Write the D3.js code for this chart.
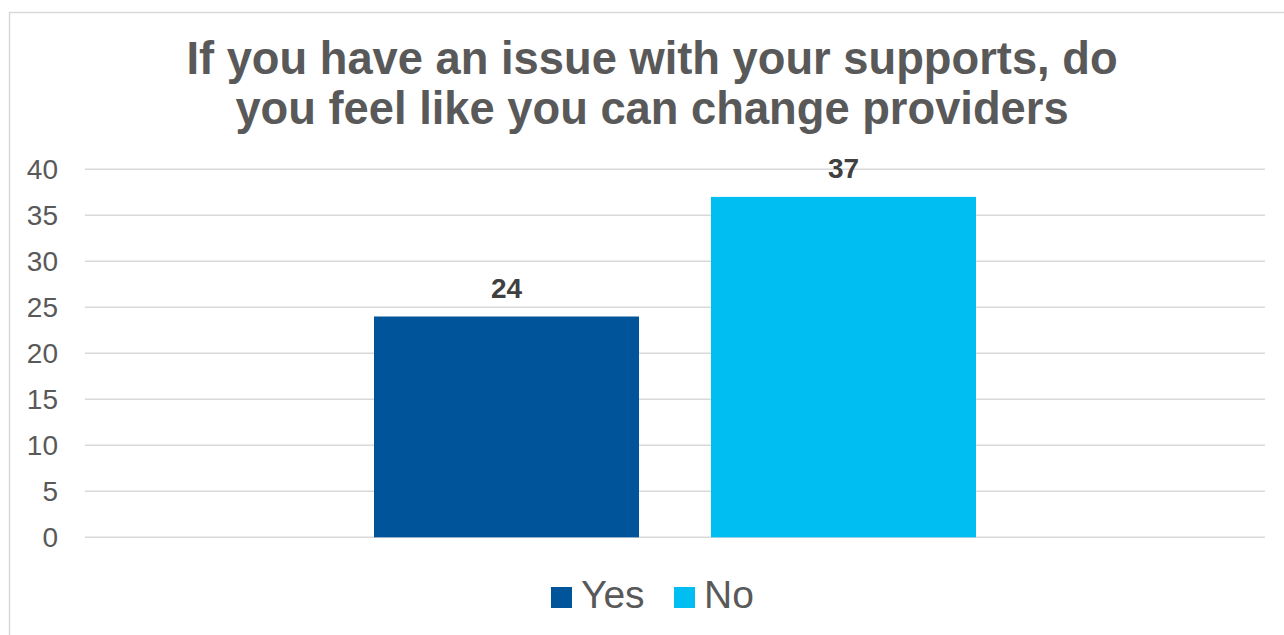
<!DOCTYPE html>
<html><head><meta charset="utf-8">
<script src="https://cdn.jsdelivr.net/npm/d3@7"></script>
<style>body{margin:0;background:#fff;}svg{display:block;font-family:Arial,"Liberation Sans",sans-serif;}</style>
</head><body>
<script>
const seriesNames = ["Yes", "No"];
const seriesValues = [24, 37];
const seriesColors = ["#00559A", "#00BEF2"];
const yTicks = [0, 5, 10, 15, 20, 25, 30, 35, 40];
const titleLines = ["If you have an issue with your supports, do", "you feel like you can change providers"];

const W = 1284, H = 635;
const svg = d3.select("body").append("svg").attr("width", W).attr("height", H);

// chart border (left and top visible)
svg.append("path").attr("d", `M9.5,${H} V12.5 H${W}`).attr("fill", "none").attr("stroke", "#d9d9d9").attr("stroke-width", 1.5);

const plot = {left: 85, right: 1265, top: 169.3, bottom: 537.3};
const y = d3.scaleLinear().domain([0, 40]).range([plot.bottom, plot.top]);
const x = d3.scaleBand().domain(seriesNames).range([plot.left, plot.right]).paddingInner(0.2136).paddingOuter(0.8576);

// gridlines
svg.append("g").selectAll("line").data(yTicks).join("line")
  .attr("x1", plot.left).attr("x2", plot.right)
  .attr("y1", d => y(d)).attr("y2", d => y(d))
  .attr("stroke", "#d9d9d9").attr("stroke-width", 1.6);

// y axis labels
const yAxis = d3.axisLeft(y).tickValues(yTicks).tickSize(0).tickPadding(27);
const ga = svg.append("g").attr("transform", `translate(${plot.left},0)`).call(yAxis);
ga.select(".domain").remove();
ga.selectAll("text").attr("font-size", 28).attr("fill", "#595959").attr("font-family", "Arial, 'Liberation Sans', sans-serif");

// bars
const data = seriesNames.map((n, i) => ({name: n, value: seriesValues[i], color: seriesColors[i]}));
svg.append("g").selectAll("rect").data(data).join("rect")
  .attr("x", d => x(d.name)).attr("width", x.bandwidth())
  .attr("y", d => y(d.value)).attr("height", d => y(0) - y(d.value))
  .attr("fill", d => d.color);

// data labels
svg.append("g").selectAll("text").data(data).join("text")
  .attr("x", d => x(d.name) + x.bandwidth() / 2)
  .attr("y", d => y(d.value) - 18.5)
  .attr("text-anchor", "middle").attr("font-size", 28).attr("font-weight", "bold").attr("fill", "#404040")
  .text(d => d.value);

// title
svg.append("g").selectAll("text").data(titleLines).join("text")
  .attr("x", 652).attr("y", (d, i) => 74.3 + i * 50)
  .attr("text-anchor", "middle").attr("font-size", 45.3).attr("font-weight", "bold").attr("fill", "#595959")
  .text(d => d);

// legend
const legend = svg.append("g");
const legendX = [551, 674];
data.forEach((d, i) => {
  legend.append("rect").attr("x", legendX[i]).attr("y", 587).attr("width", 21).attr("height", 21).attr("fill", d.color);
  legend.append("text").attr("x", legendX[i] + 30).attr("y", 607.5)
    .attr("font-size", 39).attr("fill", "#595959").text(d.name);
});
</script>
</body></html>
